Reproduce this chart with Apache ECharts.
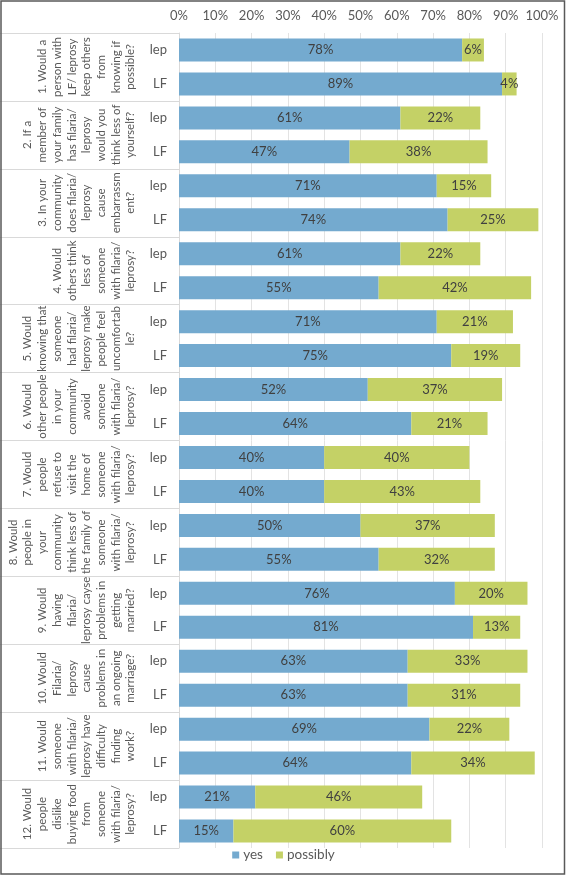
<!DOCTYPE html>
<html>
<head>
<meta charset="utf-8">
<script src="https://cdn.jsdelivr.net/npm/echarts@6/dist/echarts.min.js"></script>
<style>
html,body{margin:0;padding:0;background:#fff;}
#chart{width:567px;height:877px;}
</style>
</head>
<body>
<div id="chart"></div>
<script>
// Question labels (outer category level), with the original line breaks
const questions = [
  "1. Would a\nperson with\nLF/ leprosy\nkeep others\nfrom\nknowing if\npossible?",
  "2. If a\nmember of\nyour family\nhas filaria/\nleprosy\nwould you\nthink less of\nyourself?",
  "3. In your\ncommunity\ndoes filaria/\nleprosy\ncause\nembarrassm\nent?",
  "4. Would\nothers think\nless of\nsomeone\nwith filaria/\nleprosy?",
  "5. Would\nknowing that\nsomeone\nhad filaria/\nleprosy make\npeople feel\nuncomfortab\nle?",
  "6. Would\nother people\nin your\ncommunity\navoid\nsomeone\nwith filaria/\nleprosy?",
  "7. Would\npeople\nrefuse to\nvisit the\nhome of\nsomeone\nwith filaria/\nleprosy?",
  "8. Would\npeople in\nyour\ncommunity\nthink less of\nthe family of\nsomeone\nwith filaria/\nleprosy?",
  "9. Would\nhaving\nfilaria/\nleprosy cayse\nproblems in\ngetting\nmarried?",
  "10. Would\nFilaria/\nleprosy\ncause\nproblems in\nan ongoing\nmarriage?",
  "11. Would\nsomeone\nwith filaria/\nleprosy have\ndifficulty\nfinding\nwork?",
  "12. Would\npeople\ndislike\nbuying food\nfrom\nsomeone\nwith filaria/\nleprosy?"
];
// Inner category level
const groups = ["lep", "LF"];
// Series names
const seriesNames = ["yes", "possibly"];
// Values (%) per question, in question order
const yesLep      = [78, 61, 71, 61, 71, 52, 40, 50, 76, 63, 69, 21];
const yesLF       = [89, 47, 74, 55, 75, 64, 40, 55, 81, 63, 64, 15];
const possiblyLep = [6, 22, 15, 22, 21, 37, 40, 37, 20, 33, 22, 46];
const possiblyLF  = [4, 38, 25, 42, 19, 21, 43, 32, 13, 31, 34, 60];
// X-axis ticks
const xTicks = [0, 10, 20, 30, 40, 50, 60, 70, 80, 90, 100];

const cats = [], yesData = [], possData = [];
questions.forEach((q, i) => {
  cats.push(groups[0]); yesData.push(yesLep[i]); possData.push(possiblyLep[i]);
  cats.push(groups[1]); yesData.push(yesLF[i]); possData.push(possiblyLF[i]);
});

const FONT = 'Lato';
const TXT = '#595959';
const chart = echarts.init(document.getElementById('chart'), null, {renderer: 'canvas'});
const barLabel = {
  show: true, position: 'inside', color: '#404040', fontFamily: FONT, fontSize: 13,
  formatter: p => p.value + '%'
};
chart.setOption({
  animation: false,
  backgroundColor: '#ffffff',
  textStyle: {fontFamily: FONT},
  graphic: [{
    type: 'rect', silent: true, z: 100,
    shape: {x: 1, y: 1, width: 563.5, height: 873},
    style: {fill: 'none', stroke: '#595959', lineWidth: 1.5}
  }],
  grid: {left: 179, right: 25, top: 33, bottom: 29, containLabel: false},
  legend: {
    data: seriesNames, bottom: 10, left: 'center',
    itemWidth: 7, itemHeight: 7, itemGap: 13, icon: 'rect',
    textStyle: {color: TXT, fontFamily: FONT, fontSize: 13.5, padding: [0, 0, 0, -1]}
  },
  xAxis: {
    type: 'value', position: 'top', min: xTicks[0], max: xTicks[xTicks.length - 1], interval: 10,
    axisLine: {show: false}, axisTick: {show: false},
    axisLabel: {formatter: '{value}%', color: TXT, fontFamily: FONT, fontSize: 13, margin: 11},
    splitLine: {show: true, lineStyle: {color: '#e3e3e3', width: 1}}
  },
  yAxis: [{
    type: 'category', data: cats, inverse: true, position: 'left',
    axisLine: {show: true, lineStyle: {color: '#d9d9d9'}},
    axisTick: {show: false},
    axisLabel: {interval: 0, color: TXT, fontFamily: FONT, fontSize: 13, margin: 12}
  }, {
    type: 'category', data: questions, inverse: true, position: 'left', offset: 0,
    axisLine: {show: false},
    axisTick: {show: true, interval: 0, length: 179, lineStyle: {color: '#d9d9d9'}},
    axisLabel: {
      interval: 0, rotate: 90, align: 'center', verticalAlign: 'bottom',
      margin: 41, lineHeight: 14.7, color: TXT, fontFamily: FONT, fontSize: 11.5
    }
  }],
  series: [{
    name: seriesNames[0], type: 'bar', stack: 'total', yAxisIndex: 0,
    barWidth: 23, data: yesData,
    itemStyle: {color: '#74aacf'}, label: barLabel
  }, {
    name: seriesNames[1], type: 'bar', stack: 'total', yAxisIndex: 0,
    barWidth: 23, data: possData,
    itemStyle: {color: '#c4d166'}, label: barLabel
  }]
});
</script>
</body>
</html>
